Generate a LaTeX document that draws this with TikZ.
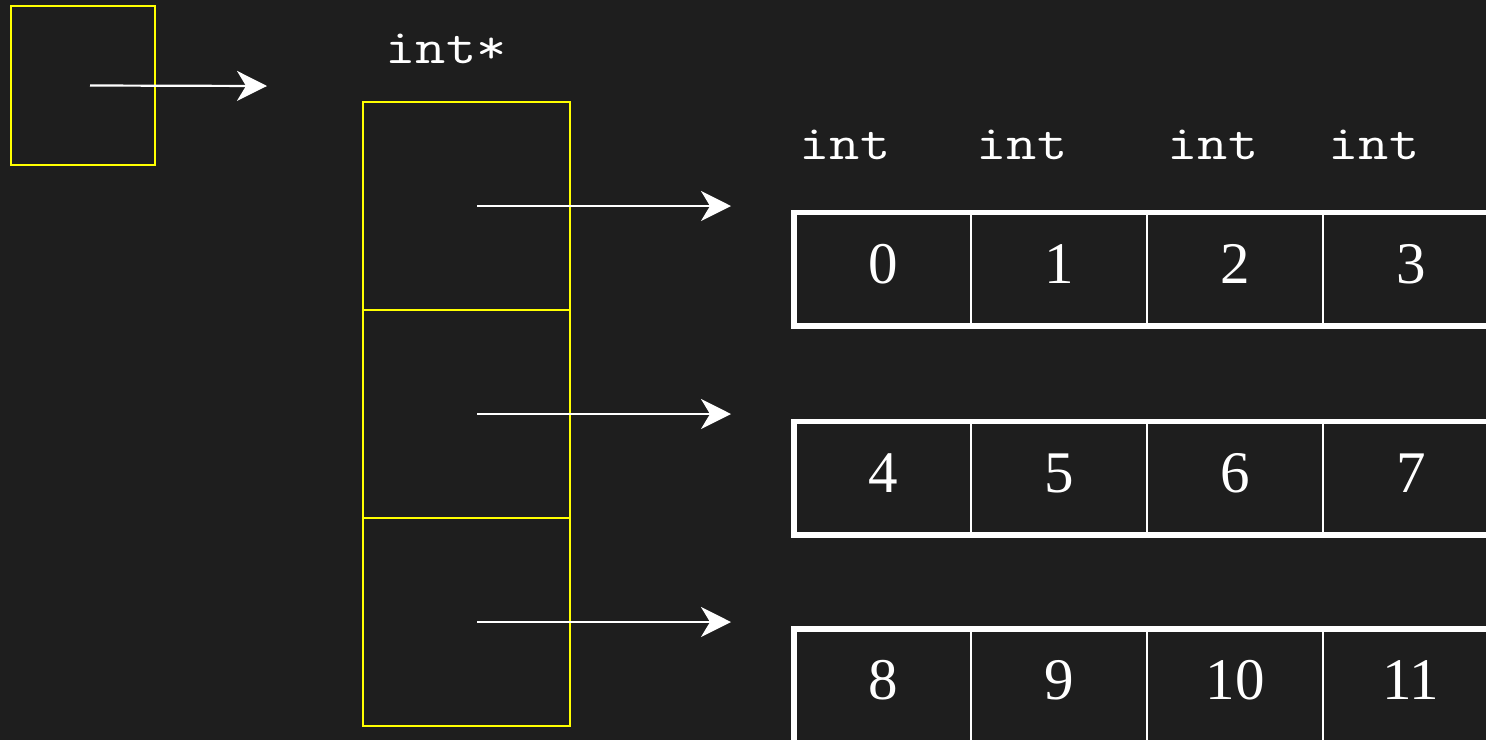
\documentclass[tikz,border=0pt]{standalone}
\usepackage{fontspec}
\usepackage{graphicx}
\setmainfont{Liberation Serif}
\usetikzlibrary{arrows.meta}
\definecolor{bg}{HTML}{1E1E1E}
\definecolor{ptryellow}{HTML}{FFFF00}
% monospaced type names, set slightly wide
\newcommand{\typetext}[1]{\scalebox{1.2}[1]{#1}}
\begin{document}
\begin{tikzpicture}[x=1pt,y=-1pt,
  slot/.style={draw=ptryellow, line width=2pt, inner sep=0pt},
  cell/.style={draw=white, line width=2pt, minimum width=176pt, minimum height=111.5pt,
    inner sep=0pt, text=white, font=\fontsize{59}{59}\selectfont,
    text height=40pt, text depth=12pt},
  frame/.style={draw=white, line width=5.5pt},
  ptrarrow/.style={draw=white, line width=2.2pt,
    -{Stealth[length=30pt,width=30pt,inset=9pt]}},
  typename/.style={text=white, font=\fontsize{49}{49}\selectfont\ttfamily,
    anchor=base, inner sep=0pt}]

% canvas
\fill[bg] (0,0) rectangle (1486,740);
\clip (0,0) rectangle (1486,740);

% int** variable
\node[slot, minimum width=144pt, minimum height=159pt] (ptr) at (83,85.5) {};
\coordinate (e0) at (267,86);
\draw[ptrarrow] ([xshift=7pt]ptr.center) -- (e0);

% array of row pointers
\node[typename] (tptr) at (446,63) {\typetext{int*}};
\foreach \i/\y in {1/206,2/414,3/622} {
  \node[slot, minimum width=207pt, minimum height=208pt] (s\i) at (466.5,\y) {};
  \coordinate (t\i) at (731,\y);
  \draw[ptrarrow] ([xshift=10.5pt]s\i.center) -- (t\i);
}

% element type labels
\node[typename] (ti0) at (845,159) {\typetext{int}};
\node[typename] (ti1) at (1022,159) {\typetext{int}};
\node[typename] (ti2) at (1213,159) {\typetext{int}};
\node[typename] (ti3) at (1374,159) {\typetext{int}};

% rows of ints
\foreach \r/\y in {0/269.25,1/478,2/685.5} {
  \foreach \c in {0,...,3} {
    \pgfmathtruncatemacro\v{4*\r+\c}
    \node[cell] (a\r\c) at (883+176*\c,\y) {\v};
  }
  \draw[frame] (a\r0.north west) rectangle (a\r3.south east);
}
\end{tikzpicture}
\end{document}
